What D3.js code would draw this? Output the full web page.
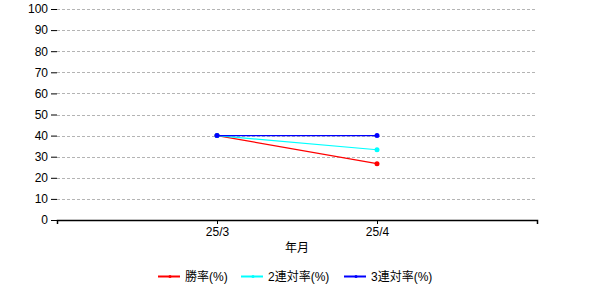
<!DOCTYPE html>
<html>
<head>
<meta charset="utf-8">
<script src="https://cdn.jsdelivr.net/npm/d3@7"></script>
<style>
  body { margin: 0; background: #fff; }
  text { font-family: "Liberation Sans", "Noto Sans CJK JP", sans-serif; font-size: 12px; fill: #000; }
</style>
</head>
<body>
<div id="chart"></div>
<script>
// Chart data
var months = ["25/3", "25/4"];
var winRate = [40, 26.7];
var top2Rate = [40, 33.3];
var top3Rate = [40, 40];
var seriesNames = ["勝率(%)", "2連対率(%)", "3連対率(%)"];
var seriesColors = ["#ff0000", "#00ffff", "#0000ff"];
var yTicks = [0, 10, 20, 30, 40, 50, 60, 70, 80, 90, 100];

var svgWidth = 600;
var svgHeight = 300;
var margin = { left: 57, right: 63, top: 9, bottom: 80 };
var width = svgWidth - margin.left - margin.right;
var height = svgHeight - margin.top - margin.bottom;

var svg = d3.select("#chart").append("svg")
  .attr("width", svgWidth)
  .attr("height", svgHeight);

var g = svg.append("g")
  .attr("transform", `translate(${margin.left}, ${margin.top})`);

// x: category slots, points sit at 1 and 2 of [0, 3]
var xScale = d3.scaleLinear().domain([0, months.length + 1]).range([0, width]);
var yScale = d3.scaleLinear().domain([0, 100]).range([height, 0]);

// gridlines
g.append("g").selectAll("line")
  .data(yTicks.filter(d => d > 0))
  .enter().append("line")
  .attr("x1", 0).attr("x2", width - 1)
  .attr("y1", d => Math.round(yScale(d)) + 0.5)
  .attr("y2", d => Math.round(yScale(d)) + 0.5)
  .attr("stroke", "#b4b4b4")
  .attr("stroke-dasharray", "3,2");

// y axis (ticks only, no domain line)
var yAxis = g.append("g")
  .call(d3.axisLeft(yScale).tickValues(yTicks).tickSize(6).tickPadding(3));
yAxis.select(".domain").remove();
yAxis.selectAll("line").attr("stroke", "#000");
yAxis.selectAll("text").style("font-size", "12px").attr("fill", "#000");

// x axis
var xAxis = g.append("g")
  .attr("transform", `translate(0, ${height})`)
  .call(d3.axisBottom(xScale)
    .tickValues(d3.range(0, months.length + 2))
    .tickFormat(d => months[d - 1] || "")
    .tickSizeInner(4).tickSizeOuter(4).tickPadding(3));
xAxis.select(".domain").attr("stroke", "#000").attr("stroke-width", 1.5);
xAxis.selectAll("line").attr("stroke", "#000");
xAxis.selectAll("text").style("font-size", "12px").attr("fill", "#000");

g.append("text")
  .attr("x", width / 2)
  .attr("y", height + 32)
  .attr("text-anchor", "middle")
  .text("年月");

// series
var allSeries = [winRate, top2Rate, top3Rate];
var line = d3.line()
  .x((d, i) => xScale(i + 1))
  .y(d => yScale(d));

allSeries.forEach(function(vals, s) {
  g.append("path")
    .datum(vals)
    .attr("fill", "none")
    .attr("stroke", seriesColors[s])
    .attr("stroke-width", 1.2)
    .attr("d", line);
  g.selectAll(null)
    .data(vals)
    .enter().append("circle")
    .attr("cx", (d, i) => xScale(i + 1))
    .attr("cy", d => yScale(d))
    .attr("r", 2.5)
    .attr("fill", seriesColors[s]);
});

// legend
var legendX = [158, 241, 344];
var legend = svg.append("g").attr("transform", "translate(0, 276)");
seriesNames.forEach(function(name, s) {
  var item = legend.append("g").attr("transform", `translate(${legendX[s]}, 0)`);
  item.append("line")
    .attr("x1", 0).attr("x2", 22)
    .attr("y1", 0.5).attr("y2", 0.5)
    .attr("stroke", seriesColors[s])
    .attr("stroke-width", 2);
  item.append("circle")
    .attr("cx", 12).attr("cy", 0.5).attr("r", 1.5)
    .attr("fill", seriesColors[s]);
  item.append("text")
    .attr("x", 27).attr("y", 4.5)
    .text(name);
});
</script>
</body>
</html>
